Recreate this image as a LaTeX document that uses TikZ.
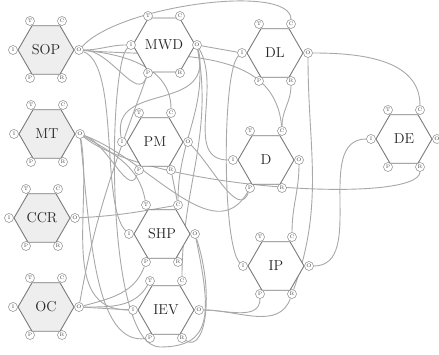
\documentclass[tikz,border=0pt]{standalone}
\usepackage{tikz}
\usetikzlibrary{shapes.geometric,backgrounds}
\definecolor{hexline}{HTML}{7A7A7A}
\definecolor{hexfill}{HTML}{EEEEEE}
\definecolor{wire}{HTML}{A8A8A8}
\definecolor{ring}{HTML}{8A8A8A}

\tikzset{
  func/.style={regular polygon,regular polygon sides=6,minimum size=56pt,
    inner sep=0pt,draw=hexline,line width=0.9pt,font=\Large,text=black!85},
  aspect/.style={circle,draw=ring,fill=white,line width=0.5pt,minimum size=9pt,
    inner sep=0pt,font=\fontsize{5}{5}\selectfont,text=black!70},
  link/.style={draw=wire,line width=0.9pt}
}

% one function: name, x, y, label, fill
\newcommand{\fram}[5]{%
  \node[func,fill=#5] (#1) at (#2,#3) {#4};
  \node[aspect] (#1-T) at ([shift={(-16,29)}]#1.center) {T};
  \node[aspect] (#1-C) at ([shift={(16,29)}]#1.center) {C};
  \node[aspect] (#1-I) at ([shift={(-33,0)}]#1.center) {I};
  \node[aspect] (#1-O) at ([shift={(33,0)}]#1.center) {O};
  \node[aspect] (#1-P) at ([shift={(-16,-28)}]#1.center) {P};
  \node[aspect] (#1-R) at ([shift={(16,-28)}]#1.center) {R};
}

\begin{document}
\begin{tikzpicture}[x=1pt,y=1pt]
  \useasboundingbox (0,0) rectangle (439,355);

  % background functions
  \fram{SOP}{46}{305}{SOP}{hexfill}
  \fram{MT}{47}{221}{MT}{hexfill}
  \fram{CCR}{42}{137}{CCR}{hexfill}
  \fram{OC}{46}{48}{OC}{hexfill}
  % foreground functions
  \fram{MWD}{164}{310}{MWD}{white}
  \fram{PM}{155}{213}{PM}{white}
  \fram{SHP}{162}{121}{SHP}{white}
  \fram{IEV}{166}{45}{IEV}{white}
  \fram{DL}{275}{302}{DL}{white}
  \fram{D}{266}{195}{D}{white}
  \fram{IP}{276}{89}{IP}{white}
  \fram{DE}{404}{216}{DE}{white}

  \begin{scope}[on background layer]
    % from SOP
    \draw[link] (SOP-O) to[out=0,in=180] (MWD-I);
    \draw[link] (SOP-O) to[out=0,in=250] (MWD-P);
    \draw[link] (SOP-O) to[out=-5,in=90] (PM-C);
    \draw[link] (SOP-O) to[out=-5,in=95] (D-C);
    \draw[link] (SOP-O) .. controls (120,350) and (291,372) .. (DL-C);
    \draw[link] (SOP-O) .. controls (120,290) and (100,150) .. (SHP-I);
    % from MWD
    \draw[link] (MWD-O) to (DL-I);
    \draw[link] (MWD-O) .. controls (215,240) and (110,275) .. (PM-I);
    \draw[link] (MWD-O) to[out=-80,in=90] (SHP-C);
    \draw[link] (MWD-O) to[out=-80,in=90] (IEV-C);
    \draw[link] (MWD-O) to[out=-60,in=180] (D-I);
    % from MT
    \draw[link] (MT-O) to[out=-20,in=250] (PM-P);
    \draw[link] (MT-O) .. controls (150,165) and (420,150) .. (DE-R);
    \draw[link] (MT-O) to[out=-20,in=240] (D-P);
    \draw[link] (MT-O) to[out=-30,in=100] (SHP-T);
    \draw[link] (MT-O) to[out=-80,in=180] (IEV-I);
    \draw[link] (MT-O) .. controls (90,120) and (95,10) .. (IEV-P);
    % from CCR and OC
    \draw[link] (CCR-O) to[out=3,in=190] (SHP-C);
    \draw[link] (OC-O) to[out=0,in=240] (IEV-T);
    \draw[link] (OC-O) to[out=15,in=250] (SHP-P);
    \draw[link] (OC-O) to (IEV-I);
    \draw[link] (OC-O) to[out=80,in=250] (MWD-P);
    % from PM and SHP
    \draw[link] (PM-R) to (SHP-C);
    \draw[link] (PM-O) to[out=-45,in=250] (D-P);
    \draw[link] (SHP-O) .. controls (215,60) and (205,2) .. (IEV-R);
    \draw[link] (SHP-O) .. controls (212,40) and (212,8) .. (160,8)
      .. controls (104,8) and (108,290) .. (MWD-I);
    % from IEV
    \draw[link] (IEV-O) to[out=0,in=250] (IP-R);
    \draw[link] (IEV-O) to[out=0,in=270] (IP-P);
    % right part
    \draw[link] (DL-I) .. controls (222,285) and (222,110) .. (IP-I);
    \draw[link] (DL-R) to[out=-90,in=90] (D-C);
    \draw[link] (DL-O) to[out=0,in=90] (DE-C);
    \draw[link] (DL-O) to[out=-90,in=70] (IP-R);
    \draw[link] (D-O) to[out=-90,in=90] (IP-C);
    \draw[link] (IP-O) to[out=0,in=180] (DE-I);
  \end{scope}
\end{tikzpicture}
\end{document}
